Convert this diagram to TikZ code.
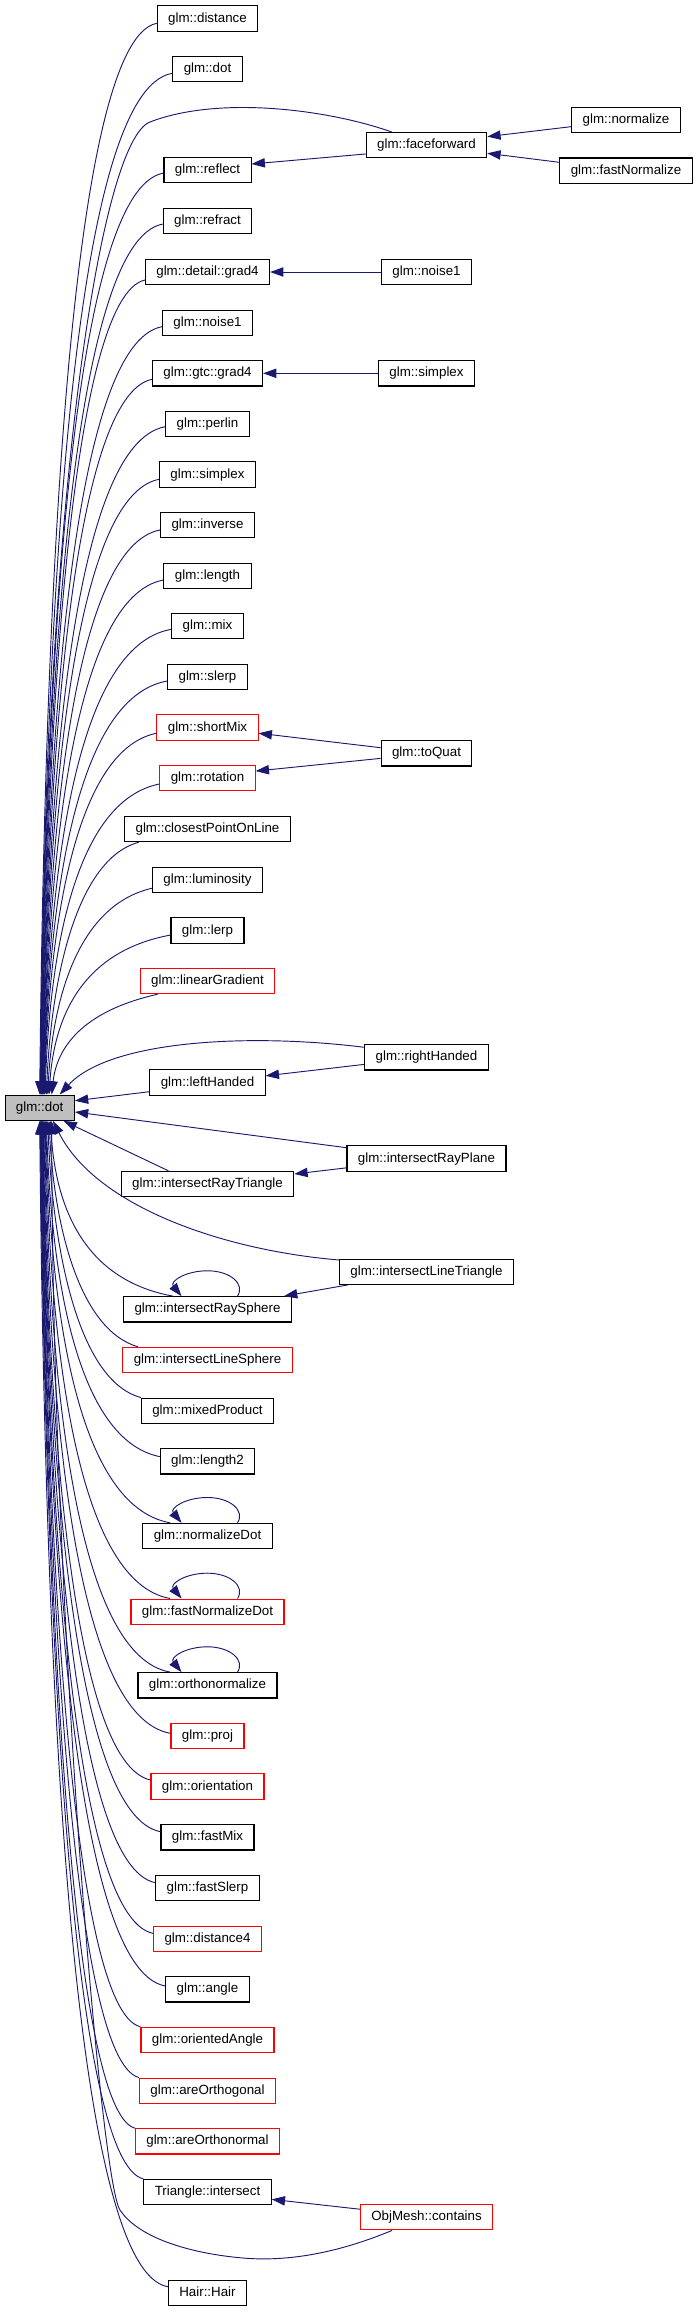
\documentclass[tikz,border=0pt]{standalone}
\usepackage{fontspec}
\newfontfamily\dxfont{Liberation Sans}
\usetikzlibrary{arrows.meta,calc}
\definecolor{EdgeBlue}{RGB}{25,25,112}
\definecolor{StubRed}{RGB}{255,0,0}

\begin{document}
\begin{tikzpicture}[x=0.75pt, y=-0.75pt,
	fn/.style={draw=black, line width=0.8pt, rectangle, inner xsep=8.2pt, inner ysep=0pt,
		minimum height=19pt, text height=7.3pt, text depth=2pt,
		font=\dxfont\fontsize{10}{12}\selectfont},
	fnred/.style={fn, draw=StubRed},
	focus/.style={fn, fill=gray!50},
	call/.style={draw=EdgeBlue, line width=0.7pt, -{Triangle[length=10pt,width=7pt]}},
	fromabove/.style={to path={let \p1=(\tikztostart), \p2=(\tikztotarget) in
		.. controls ({\x2+22.5pt},{\y1-12.75pt}) and ({\x2+3.75pt},{\y1+0.54*((\y2)-(\y1))}) .. (\tikztotarget)}},
	frombelow/.style={to path={let \p1=(\tikztostart), \p2=(\tikztotarget) in
		.. controls ({\x2+22.5pt},{\y1+12.75pt}) and ({\x2+3.75pt},{\y1+0.54*((\y2)-(\y1))}) .. (\tikztotarget)}}]
	\useasboundingbox (0,0) rectangle (697,2312);

	% the function itself
	\node[focus] (dot) at (39.7,1107.7) {glm::dot};

	% direct callers
	\node[fn] (distance) at (207.5,18.5) {glm::distance};
	\node[fn] (dotfn) at (207.5,69.3) {glm::dot};
	\node[fn] (reflect) at (207.5,170) {glm::reflect};
	\node[fn] (refract) at (207.5,221) {glm::refract};
	\node[fn] (dgrad) at (207.5,272) {glm::detail::grad4};
	\node[fn] (noiseA) at (207.5,322.7) {glm::noise1};
	\node[fn] (ggrad) at (207.5,373.3) {glm::gtc::grad4};
	\node[fn] (perlin) at (207.5,424) {glm::perlin};
	\node[fn] (simplexA) at (207.5,474.5) {glm::simplex};
	\node[fn] (inverse) at (207.5,525) {glm::inverse};
	\node[fn] (length) at (207.5,576) {glm::length};
	\node[fn] (mix) at (207.5,626) {glm::mix};
	\node[fn] (slerp) at (207.5,677) {glm::slerp};
	\node[fnred] (shortMix) at (207.5,727.5) {glm::shortMix};
	\node[fnred] (rotation) at (207.5,778) {glm::rotation};
	\node[fn] (closest) at (207.5,829) {glm::closestPointOnLine};
	\node[fn] (lumi) at (207.5,880) {glm::luminosity};
	\node[fn] (lerp) at (207.5,930.5) {glm::lerp};
	\node[fnred] (linGrad) at (207.5,981) {glm::linearGradient};
	\node[fn] (leftH) at (207.5,1082.5) {glm::leftHanded};
	\node[fn] (iRayTri) at (207.5,1184) {glm::intersectRayTriangle};
	\node[fn] (iRaySph) at (207.5,1309.3) {glm::intersectRaySphere};
	\node[fnred] (iLineSph) at (207.5,1360) {glm::intersectLineSphere};
	\node[fn] (mixedP) at (207.5,1410.7) {glm::mixedProduct};
	\node[fn] (length2) at (207.5,1461.3) {glm::length2};
	\node[fn] (normDot) at (207.5,1536) {glm::normalizeDot};
	\node[fnred] (fastNormDot) at (207.5,1611.7) {glm::fastNormalizeDot};
	\node[fn] (orthoN) at (207.5,1685.3) {glm::orthonormalize};
	\node[fnred] (proj) at (207.5,1736) {glm::proj};
	\node[fnred] (orient) at (207.5,1786.5) {glm::orientation};
	\node[fn] (fastMix) at (207.5,1837.3) {glm::fastMix};
	\node[fn] (fastSlerp) at (207.5,1888) {glm::fastSlerp};
	\node[fnred] (dist4) at (207.5,1938.7) {glm::distance4};
	\node[fn] (angle) at (207.5,1989.3) {glm::angle};
	\node[fnred] (orAngle) at (207.5,2040) {glm::orientedAngle};
	\node[fnred] (areOg) at (207.5,2090.7) {glm::areOrthogonal};
	\node[fnred] (areOn) at (207.5,2141.3) {glm::areOrthonormal};
	\node[fn] (triIs) at (207.5,2192) {Triangle::intersect};
	\node[fn] (hair) at (207.5,2293) {Hair::Hair};

	% second level callers
	\node[fn] (faceforward) at (426.5,145.3) {glm::faceforward};
	\node[fn] (noiseB) at (426.5,272) {glm::noise1};
	\node[fn] (simplexB) at (426.5,373.3) {glm::simplex};
	\node[fn] (toQuat) at (426.5,753.3) {glm::toQuat};
	\node[fn] (rightH) at (426.5,1057.3) {glm::rightHanded};
	\node[fn] (iRayPlane) at (426.5,1158.5) {glm::intersectRayPlane};
	\node[fn] (iLineTri) at (426.5,1271.7) {glm::intersectLineTriangle};
	\node[fnred] (objMesh) at (426.5,2217.2) {ObjMesh::contains};
	\node[fn] (normalize) at (626,120) {glm::normalize};
	\node[fn] (fastNorm) at (626,170.7) {glm::fastNormalize};

	% calls from above
	\draw[call] ([yshift=-3.6pt]distance.west) to[fromabove] (dot.north);
	\draw[call] ([yshift=-3pt]dotfn.west) to[fromabove] ([xshift=0.4pt]dot.north);
	\draw[call] ([yshift=-2.3pt]reflect.west) to[fromabove] ([xshift=0.8pt]dot.north);
	\draw[call] ([yshift=-2.3pt]refract.west) to[fromabove] ([xshift=1pt]dot.north);
	\draw[call] ([yshift=-6pt]dgrad.west) to[fromabove] ([xshift=1.3pt]dot.north);
	\draw[call] ([yshift=-3pt]noiseA.west) to[fromabove] ([xshift=1.5pt]dot.north);
	\draw[call] ([yshift=-4.5pt]ggrad.west) to[fromabove] ([xshift=1.8pt]dot.north);
	\draw[call] ([yshift=-2pt]perlin.west) to[fromabove] ([xshift=2pt]dot.north);
	\draw[call] ([yshift=-3.6pt]simplexA.west) to[fromabove] ([xshift=2.2pt]dot.north);
	\draw[call] ([yshift=-3.7pt]inverse.west) to[fromabove] ([xshift=2.5pt]dot.north);
	\draw[call] ([yshift=-3pt]length.west) to[fromabove] ([xshift=2.7pt]dot.north);
	\draw[call] ([yshift=-2.5pt]mix.west) to[fromabove] ([xshift=3pt]dot.north);
	\draw[call] ([yshift=-3pt]slerp.west) to[fromabove] ([xshift=3.2pt]dot.north);
	\draw[call] ([yshift=-4.3pt]shortMix.west) to[fromabove] ([xshift=3.5pt]dot.north);
	\draw[call] ([yshift=-4.5pt]rotation.west) to[fromabove] ([xshift=4pt]dot.north);
	\draw[call] ([xshift=11pt]closest.south west) to[fromabove] ([xshift=5pt]dot.north);
	\draw[call] ([yshift=-6.2pt]lumi.west) to[fromabove] ([xshift=6pt]dot.north);
	\draw[call] ([yshift=-3.4pt]lerp.west) to[fromabove] ([xshift=7pt]dot.north);
	\draw[call] ([xshift=13.5pt]linGrad.south west) to[fromabove] ([xshift=9pt]dot.north);

	% calls from below
	\draw[call] ([xshift=-26pt]iRaySph.north) to[frombelow] ([xshift=8pt]dot.south);
	\draw[call] ([xshift=11.8pt]iLineSph.north west) to[frombelow] ([xshift=7pt]dot.south);
	\draw[call] (mixedP.north west) to[frombelow] ([xshift=6pt]dot.south);
	\draw[call] ([yshift=3.5pt]length2.west) to[frombelow] ([xshift=5pt]dot.south);
	\draw[call] ([xshift=-28pt]normDot.north) to[frombelow] ([xshift=4.5pt]dot.south);
	\draw[call] ([xshift=-28pt]fastNormDot.north) to[frombelow] ([xshift=4pt]dot.south);
	\draw[call] ([xshift=-28pt]orthoN.north) to[frombelow] ([xshift=3.5pt]dot.south);
	\draw[call] ([yshift=2pt]proj.west) to[frombelow] ([xshift=3pt]dot.south);
	\draw[call] ([yshift=4.9pt]orient.west) to[frombelow] ([xshift=2.5pt]dot.south);
	\draw[call] ([yshift=4.2pt]fastMix.west) to[frombelow] ([xshift=2.2pt]dot.south);
	\draw[call] ([yshift=4pt]fastSlerp.west) to[frombelow] ([xshift=2pt]dot.south);
	\draw[call] ([yshift=4pt]dist4.west) to[frombelow] ([xshift=1.7pt]dot.south);
	\draw[call] ([yshift=2.5pt]angle.west) to[frombelow] ([xshift=1.5pt]dot.south);
	\draw[call] (orAngle.north west) to[frombelow] ([xshift=1.2pt]dot.south);
	\draw[call] (areOg.north west) to[frombelow] ([xshift=1pt]dot.south);
	\draw[call] (areOn.north west) to[frombelow] ([xshift=0.7pt]dot.south);
	\draw[call] (triIs.north west) to[frombelow] ([xshift=0.4pt]dot.south);
	\draw[call] ([yshift=4.7pt]hair.west) to[frombelow] (dot.south);

	% calls from the side
	\draw[call] ([yshift=-6.9pt]leftH.west) -- ([yshift=5.2pt]dot.east);
	\draw[call] ([yshift=8.1pt]iRayPlane.west) -- ([yshift=-3.2pt]dot.east);
	\draw[call] ([xshift=35.8pt]iRayTri.north west) -- ([xshift=-8.5pt]dot.south east);

	% long calls from the second level
	\draw[call] ([xshift=19.7pt]faceforward.north west) .. controls (330,110) and (220,95) .. (150,122)
		.. controls (100,141) and (44,500) .. ([xshift=1pt]dot.north);
	\draw[call] ([yshift=7.5pt]rightH.west) .. controls (250,1033) and (110,1040) .. ([xshift=15pt]dot.north);
	\draw[call] ([yshift=8.8pt]iLineTri.west) .. controls (220,1250) and (95,1205) .. ([xshift=10pt]dot.south);
	\draw[call] ([xshift=24.2pt]objMesh.south west) .. controls (340,2252) and (290,2262) .. (243,2258)
		.. controls (196,2254) and (140,2240) .. (120,2210)
		.. controls (100,2180) and (52,1600) .. ([xshift=9pt]dot.south);

	% second level edges
	\draw[call] ([yshift=-6.5pt]faceforward.west) -- ([yshift=4.5pt]reflect.east);
	\draw[call] ([yshift=-5pt]normalize.west) -- ([yshift=6.5pt]faceforward.east);
	\draw[call] ([yshift=6.3pt]fastNorm.west) -- ([yshift=-6pt]faceforward.east);
	\draw[call] (noiseB.west) -- (dgrad.east);
	\draw[call] (simplexB.west) -- (ggrad.east);
	\draw[call] ([yshift=4.2pt]toQuat.west) -- ([yshift=-4.3pt]shortMix.east);
	\draw[call] ([yshift=-3.8pt]toQuat.west) -- ([yshift=5.2pt]rotation.east);
	\draw[call] ([yshift=-5.3pt]rightH.west) -- ([yshift=5pt]leftH.east);
	\draw[call] ([yshift=-7pt]iRayPlane.west) -- ([yshift=7.5pt]iRayTri.east);
	\draw[call] ([xshift=6.7pt]iLineTri.south west) -- ([xshift=-6pt]iRaySph.north east);
	\draw[call] ([yshift=6pt]objMesh.west) -- ([yshift=-5.5pt]triIs.east);

	% recursive calls
	\foreach \n in {iRaySph,normDot,fastNormDot,orthoN}
		\draw[call] ([xshift=22.5pt]\n.north) .. controls ([shift={(28.5pt,9pt)}]\n.north)
			and ([shift={(17pt,19pt)}]\n.north) .. ([yshift=19pt]\n.north)
			.. controls ([shift={(-16.5pt,19pt)}]\n.north) and ([shift={(-28.5pt,11pt)}]\n.north)
			.. ([xshift=-19.5pt]\n.north);
\end{tikzpicture}
\end{document}
